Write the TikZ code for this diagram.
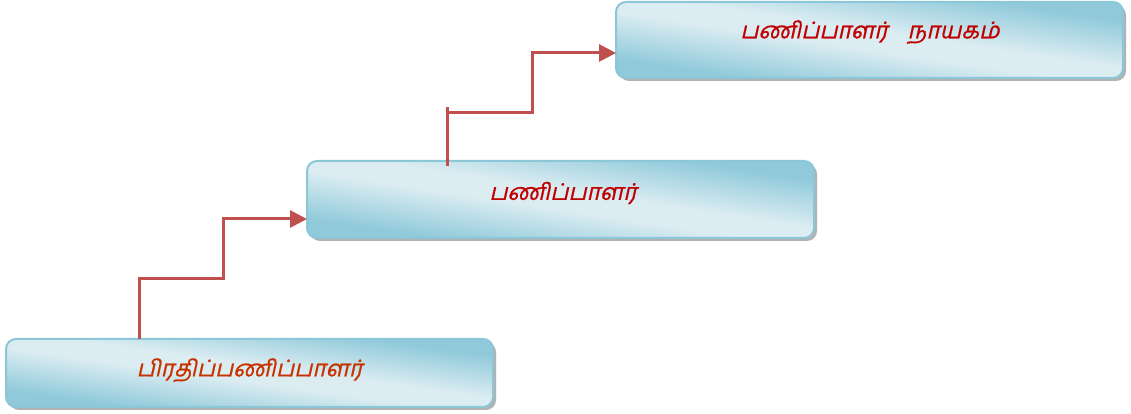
\documentclass[tikz,border=0pt]{standalone}
\usepackage{fontspec}
\newfontfamily\tamil[Script=Tamil,FakeSlant=0.22,FakeBold=0.8]{Hind Madurai}
\usetikzlibrary{arrows.meta}
\definecolor{boxdark}{HTML}{8FC9DA}
\definecolor{boxlight}{HTML}{DCEDF2}
\definecolor{boxline}{HTML}{8CC7D7}
\definecolor{linkred}{HTML}{C0504D}
\definecolor{txtred}{HTML}{C00000}
\definecolor{txtorange}{HTML}{C83200}
\pgfdeclareverticalshading{boxshade}{100bp}{color(0bp)=(boxdark); color(12bp)=(boxdark); color(44bp)=(boxlight); color(56bp)=(boxlight); color(88bp)=(boxdark); color(100bp)=(boxdark)}
\tikzset{
  boxborder/.style={rounded corners=10pt, draw=boxline, line width=2pt},
  boxshadow/.style={rounded corners=10pt, fill=gray!60, draw=none},
  lbl/.style={font=\tamil\fontsize{23}{26}\selectfont, inner sep=0pt, anchor=center},
  link/.style={draw=linkred, line width=3pt},
  linkarrow/.style={link, -{Triangle[length=17pt,width=17pt]}}
}
\newcommand{\gradbox}[4]{%
  \path[boxshadow] ({#1+3},{#2-3}) rectangle ({#3+3},{#4-3});
  \begin{scope}
    \clip[rounded corners=10pt] (#1,#2) rectangle (#3,#4);
    \pgfmathsetmacro\gw{(#3-#1)/100}%
    \pgfmathsetmacro\gh{(#4-#2)/100}%
    \pgfmathsetmacro\gcx{(#1+#3)/2}%
    \pgfmathsetmacro\gcy{(#2+#4)/2}%
    \pgftransformcm{-\gw}{\gh}{\gw}{\gh}{\pgfpoint{\gcx pt}{\gcy pt}}%
    \pgflowlevelsynccm
    \pgfuseshading{boxshade}%
  \end{scope}
  \draw[boxborder] (#1,#2) rectangle (#3,#4);
}
\begin{document}
\begin{tikzpicture}[x=1pt,y=1pt]
\useasboundingbox (0,0) rectangle (1131,414);
\gradbox{6}{7}{493}{75}
\gradbox{307}{176}{814}{253}
\gradbox{616}{336}{1123}{412}
\node[lbl, text=txtorange] (t1) at (249.5,44) {பிரதிப்பணிப்பாளர்};
\node[lbl, text=txtred] (t2) at (563,221) {பணிப்பாளர்};
\node[lbl, text=txtred] (t3) at (870,382) {பணிப்பாளர்\hspace{20pt}நாயகம்};
% connector 1
\coordinate (c1s) at (139,75);
\coordinate (c1a) at (139,135);
\coordinate (c1b) at (223,135);
\coordinate (c1c) at (223,195);
\coordinate (c1e) at (307,195);
\draw[linkarrow] (c1s) -- (c1a) -- (c1b) -- (c1c) -- (c1e);
% connector 2
\coordinate (c2s) at (447,248);
\coordinate (c2t) at (447,307);
\coordinate (c2a) at (447,301);
\coordinate (c2b) at (532,301);
\coordinate (c2c) at (532,361);
\coordinate (c2e) at (616,361);
\draw[link] (c2s) -- (c2t);
\draw[linkarrow] (c2a) -- (c2b) -- (c2c) -- (c2e);
\end{tikzpicture}
\end{document}
